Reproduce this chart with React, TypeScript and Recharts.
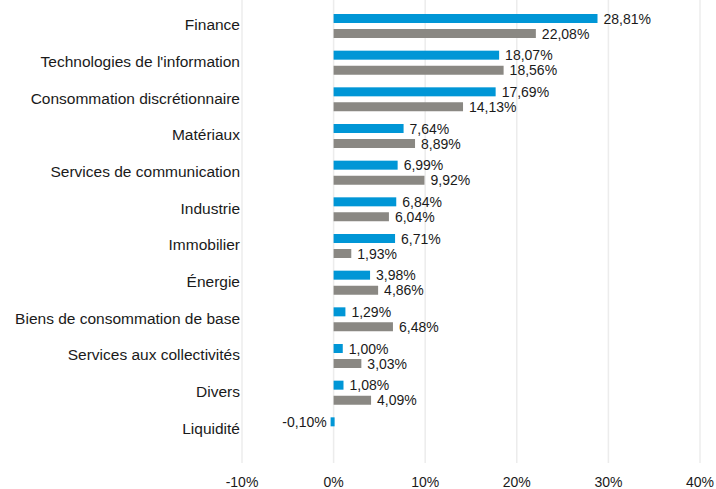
import { BarChart, Bar, XAxis, YAxis, CartesianGrid, LabelList } from "recharts"

const sectors = [
  "Finance",
  "Technologies de l'information",
  "Consommation discrétionnaire",
  "Matériaux",
  "Services de communication",
  "Industrie",
  "Immobilier",
  "Énergie",
  "Biens de consommation de base",
  "Services aux collectivités",
  "Divers",
  "Liquidité",
]

const fundWeights = [28.81, 18.07, 17.69, 7.64, 6.99, 6.84, 6.71, 3.98, 1.29, 1.0, 1.08, -0.1]
const indexWeights: (number | null)[] = [22.08, 18.56, 14.13, 8.89, 9.92, 6.04, 1.93, 4.86, 6.48, 3.03, 4.09, null]

const xTicks = [-10, 0, 10, 20, 30, 40]

const BLUE = "#0096d6"
const GRAY = "#8a8883"
const FONT = "'Liberation Sans', Arial, sans-serif"

const data = sectors.map((name, i) => ({
  name,
  fund: fundWeights[i],
  index: indexWeights[i],
}))

const formatPct = (v: number) => v.toFixed(2).replace(".", ",") + "%"

function ValueLabel(props: any) {
  const { x, y, width, height, value } = props
  if (value === null || value === undefined) return null
  const neg = value < 0
  const end = neg ? Math.min(x, x + width) : Math.max(x, x + width)
  return (
    <text
      x={neg ? end - 6 : end + 6}
      y={y + height / 2}
      dy="0.36em"
      textAnchor={neg ? "end" : "start"}
      fontSize={14}
      fontFamily={FONT}
      fill="#1a1a1a"
    >
      {formatPct(value)}
    </text>
  )
}

// tiny bars (like the cash line) still get a few pixels so they stay visible
function MinBar(props: any) {
  const { x, y, width, height, fill } = props
  if (width == null || height == null) return null
  let left = Math.min(x, x + width)
  let w = Math.abs(width)
  if (w < 4) {
    left = x - 3
    w = 4
  }
  return <rect x={left} y={y} width={w} height={height} fill={fill} />
}

export default function App() {
  return (
    <div style={{ position: "absolute", left: 0, top: 0, background: "#fff" }}>
      <BarChart
        width={716}
        height={489}
        data={data}
        layout="vertical"
        margin={{ top: 0, right: 16, bottom: 0, left: 0 }}
        barSize={9}
        barGap={6}
      >
        <CartesianGrid horizontal={false} stroke="#ececec" strokeWidth={1.5} />
        <XAxis
          type="number"
          domain={[-10, 40]}
          ticks={xTicks}
          tickFormatter={(v: number) => `${v}%`}
          axisLine={false}
          tickLine={false}
          height={26}
          tickMargin={8}
          tick={{ fontSize: 14, fontFamily: FONT, fill: "#1a1a1a" }}
        />
        <YAxis
          type="category"
          dataKey="name"
          width={242}
          axisLine={false}
          tickLine={false}
          tickSize={0}
          tickMargin={2}
          interval={0}
          padding={{ top: 8, bottom: 15 }}
          tick={{ fontSize: 15.5, fontFamily: FONT, fill: "#1a1a1a", dy: -1.5 }}
        />
        <Bar dataKey="fund" fill={BLUE} shape={<MinBar />} isAnimationActive={false}>
          <LabelList dataKey="fund" content={<ValueLabel />} />
        </Bar>
        <Bar dataKey="index" fill={GRAY} isAnimationActive={false}>
          <LabelList dataKey="index" content={<ValueLabel />} />
        </Bar>
      </BarChart>
    </div>
  )
}
